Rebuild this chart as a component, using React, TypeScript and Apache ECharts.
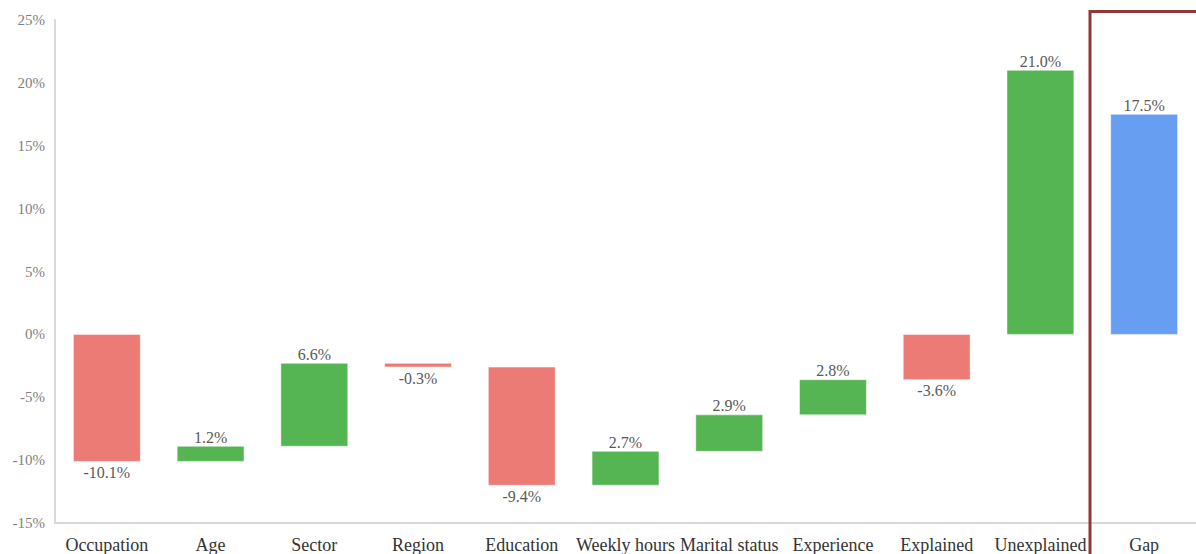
import React, { useEffect, useRef } from "react";
import * as echarts from "echarts";

const categories = [
  "Occupation", "Age", "Sector", "Region", "Education", "Weekly hours",
  "Marital status", "Experience", "Explained", "Unexplained", "Gap",
];
// contribution of each step (percentage points)
const deltas = [-10.1, 1.2, 6.6, -0.3, -9.4, 2.7, 2.9, 2.8, -3.6, 21.0, 17.5];
// which bars are totals (start from zero)
const isTotal = [false, false, false, false, false, false, false, false, true, true, true];
const kinds = ["neg", "pos", "pos", "neg", "neg", "pos", "pos", "pos", "neg", "pos", "gap"];
const yTicks = { min: -15, max: 25, interval: 5 };

const COLORS: Record<string, string> = {
  neg: "#EC7B75",
  pos: "#55B553",
  gap: "#679EF2",
};

function buildData() {
  let cum = 0;
  return deltas.map((d, i) => {
    let start: number, end: number;
    if (isTotal[i]) {
      start = 0;
      end = d;
    } else {
      start = cum;
      end = cum + d;
      cum = end;
    }
    return [i, start, end, d, kinds[i]];
  });
}

export default function App() {
  const ref = useRef<HTMLDivElement>(null);
  useEffect(() => {
    if (!ref.current) return;
    const chart = echarts.init(ref.current, undefined, { renderer: "svg" });
    const data = buildData();
    const font = "'Liberation Serif', 'Times New Roman', serif";
    chart.setOption({
      animation: false,
      backgroundColor: "#ffffff",
      grid: { left: 55, top: 20, bottom: 31, width: 1146, containLabel: false },
      xAxis: {
        type: "category",
        data: categories,
        axisLine: { onZero: false, lineStyle: { color: "#d9d9d9", width: 2 } },
        axisTick: { show: false },
        axisLabel: {
          color: "#333333",
          fontFamily: font,
          fontSize: 18,
          margin: 13,
          interval: 0,
        },
      },
      yAxis: {
        type: "value",
        min: yTicks.min,
        max: yTicks.max,
        interval: yTicks.interval,
        axisLine: { show: true, lineStyle: { color: "#d9d9d9", width: 2 } },
        axisTick: { show: false },
        splitLine: { show: false },
        axisLabel: {
          color: "#7f7f7f",
          fontFamily: font,
          fontSize: 15,
          margin: 10,
          formatter: (v: number) => `${v}%`,
        },
      },
      series: [
        {
          type: "custom",
          data,
          encode: { x: 0, y: [1, 2] },
          renderItem: (params: any, api: any) => {
            const idx = api.value(0);
            const s = api.value(1);
            const e = api.value(2);
            const d = api.value(3);
            const kind = data[params.dataIndex][4] as string;
            const hi = Math.max(s, e);
            const lo = Math.min(s, e);
            const pTop = api.coord([idx, hi]);
            const pBot = api.coord([idx, lo]);
            const bw = api.size([1, 0])[0] * 0.645;
            const x = pTop[0] - bw / 2;
            const pos = d >= 0;
            const label = `${d.toFixed(1)}%`;
            return {
              type: "group",
              children: [
                {
                  type: "rect",
                  shape: { x, y: pTop[1], width: bw, height: Math.max(pBot[1] - pTop[1], 1) },
                  style: { fill: COLORS[kind], stroke: "rgba(255,255,255,0.5)", lineWidth: 1 },
                },
                {
                  type: "text",
                  x: pTop[0],
                  y: pos ? pTop[1] - 1 : pBot[1] + 3,
                  style: {
                    text: label,
                    fill: "#595959",
                    font: `16px ${font}`,
                    align: "center",
                    verticalAlign: pos ? "bottom" : "top",
                  },
                },
              ],
            };
          },
        },
      ],
      graphic: [
        {
          type: "polyline",
          shape: { points: [[1090, 560], [1090, 11.5], [1200, 11.5]] },
          style: { stroke: "#8E3A3A", lineWidth: 3, fill: null },
          z: 100,
        },
      ],
    });
    return () => chart.dispose();
  }, []);
  return (
    <div
      ref={ref}
      style={{ position: "fixed", left: 0, top: 0, width: 1196, height: 554 }}
    />
  );
}
